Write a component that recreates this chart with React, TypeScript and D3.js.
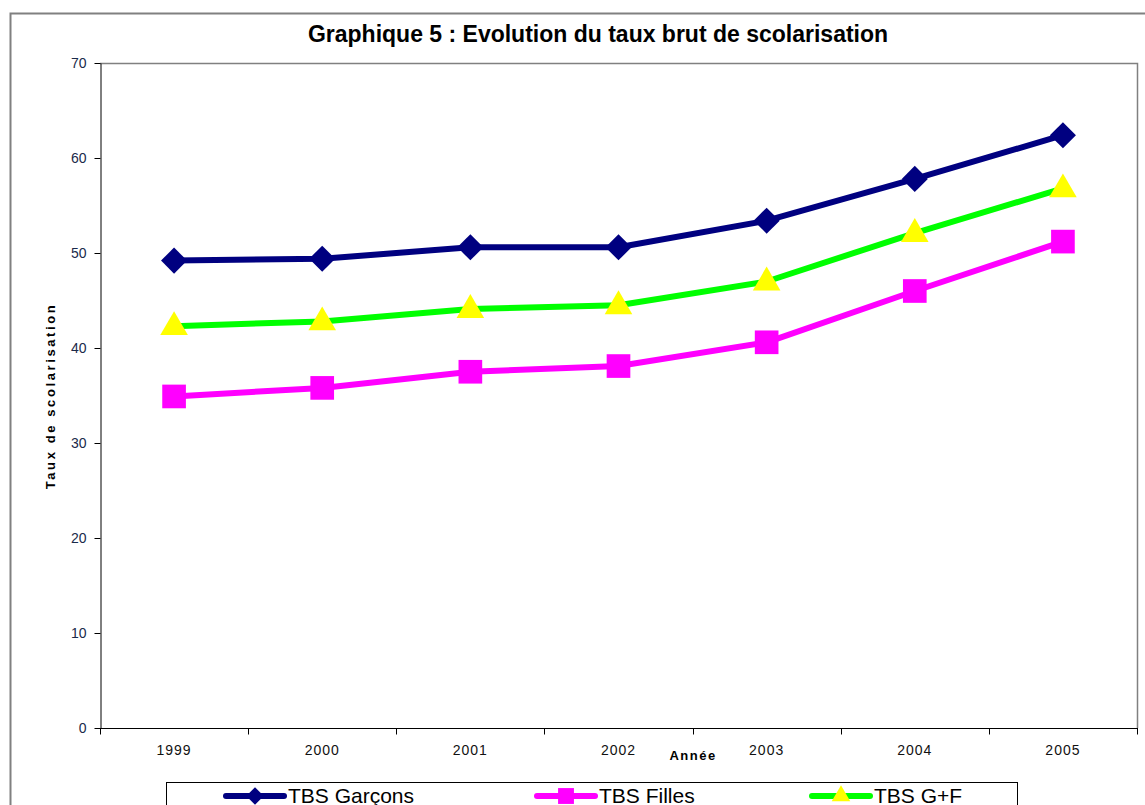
import React, { useEffect, useRef } from "react";
import * as d3 from "d3";

const years = ["1999", "2000", "2001", "2002", "2003", "2004", "2005"];
const garcons = [49.2, 49.4, 50.6, 50.6, 53.4, 57.8, 62.4];
const filles = [34.9, 35.8, 37.5, 38.1, 40.6, 46.0, 51.2];
const ensemble = [42.3, 42.8, 44.1, 44.5, 47.0, 52.1, 56.8];
const yTicks = [0, 10, 20, 30, 40, 50, 60, 70];

// square diamond (rotated square), size = area
const squareDiamond = {
  draw(context: any, size: number) {
    const r = Math.sqrt(size / 2);
    context.moveTo(0, -r);
    context.lineTo(r, 0);
    context.lineTo(0, r);
    context.lineTo(-r, 0);
    context.closePath();
  },
};

const series = [
  { name: "TBS Garçons", values: garcons, line: "#000080", fill: "#000080", symbol: squareDiamond, size: 340, dy: 0, legendX: 226 },
  { name: "TBS Filles", values: filles, line: "#FF00FF", fill: "#FF00FF", symbol: d3.symbolSquare, size: 560, dy: 0, legendX: 537 },
  { name: "TBS G+F", values: ensemble, line: "#00FF00", fill: "#FFFF00", symbol: d3.symbolTriangle, size: 330, dy: 1, legendX: 812 },
];

const FONT = "'Liberation Sans', Arial, sans-serif";

const App = () => {
  const ref = useRef<SVGSVGElement>(null);

  useEffect(() => {
    const svg = d3.select(ref.current);
    svg.selectAll("*").remove();

    const left = 100, right = 1137, top = 63, bottom = 728;

    const x = d3.scaleBand().domain(years).range([left, right]).padding(0);
    const y = d3.scaleLinear().domain([0, 70]).range([bottom, top]);

    // outer chart border
    svg.append("path")
      .attr("d", "M10.5,805 V13.5 H1145")
      .attr("fill", "none").attr("stroke", "#808080").attr("stroke-width", 2);

    // title
    svg.append("text")
      .attr("x", 598).attr("y", 42)
      .attr("text-anchor", "middle")
      .style("font", `bold 23px ${FONT}`)
      .text("Graphique 5 : Evolution du taux brut de scolarisation");

    // plot frame (gray top & right)
    svg.append("path")
      .attr("d", `M${left},${top + 0.5} H${right + 0.5} V${bottom}`)
      .attr("fill", "none").attr("stroke", "#808080").attr("stroke-width", 1.5);

    // y axis
    const yAxis = svg.append("g")
      .attr("transform", `translate(${left + 0.5},0)`)
      .call(d3.axisLeft(y).tickValues(yTicks).tickSize(6).tickPadding(8).tickSizeOuter(0));
    yAxis.select(".domain").attr("stroke", "#000");
    yAxis.selectAll("line").attr("stroke", "#000");
    yAxis.selectAll("text")
      .style("font", `14px ${FONT}`)
      .attr("fill", "#1a2a4a");

    // x axis with ticks between categories
    const xg = svg.append("g").attr("transform", `translate(0,${bottom + 0.5})`);
    xg.append("line")
      .attr("x1", left).attr("x2", right + 1)
      .attr("stroke", "#000");
    const bounds = years.map(yr => x(yr) as number).concat([right]);
    xg.selectAll("line.tick")
      .data(bounds)
      .enter().append("line")
      .attr("class", "tick")
      .attr("x1", d => Math.round(d) + 0.5).attr("x2", d => Math.round(d) + 0.5)
      .attr("y1", 0).attr("y2", 6)
      .attr("stroke", "#000");
    xg.selectAll("text")
      .data(years)
      .enter().append("text")
      .attr("x", d => (x(d) as number) + x.bandwidth() / 2)
      .attr("y", 26)
      .attr("text-anchor", "middle")
      .style("font", `14px ${FONT}`)
      .style("letter-spacing", "1px")
      .attr("fill", "#111")
      .text(d => d);

    // axis titles
    svg.append("text")
      .attr("transform", "translate(55,396) rotate(-90)")
      .attr("text-anchor", "middle")
      .style("font", `900 13px ${FONT}`)
      .style("letter-spacing", "2.6px")
      .text("Taux de scolarisation");
    svg.append("text")
      .attr("x", 693).attr("y", 760)
      .attr("text-anchor", "middle")
      .style("font", `bold 13px ${FONT}`)
      .style("letter-spacing", "1.5px")
      .text("Année");

    // series
    const cx = (i: number) => (x(years[i]) as number) + x.bandwidth() / 2;
    const line = d3.line<number>().x((_, i) => cx(i)).y(d => y(d));

    series.forEach(s => {
      svg.append("path")
        .datum(s.values)
        .attr("fill", "none")
        .attr("stroke", s.line)
        .attr("stroke-width", 6)
        .attr("stroke-linejoin", "round")
        .attr("d", line);
    });
    series.forEach(s => {
      const sym = d3.symbol().type(s.symbol as any).size(s.size);
      svg.append("g").selectAll("path")
        .data(s.values)
        .enter().append("path")
        .attr("transform", (d, i) => `translate(${cx(i)},${y(d) + s.dy})`)
        .attr("fill", s.fill)
        .attr("d", sym);
    });

    // legend
    svg.append("rect")
      .attr("x", 166.5).attr("y", 782.5)
      .attr("width", 851).attr("height", 40)
      .attr("fill", "#fff").attr("stroke", "#000");
    series.forEach(s => {
      const g = svg.append("g");
      g.append("line")
        .attr("x1", s.legendX).attr("x2", s.legendX + 58)
        .attr("y1", 796).attr("y2", 796)
        .attr("stroke", s.line).attr("stroke-width", 6)
        .attr("stroke-linecap", "round");
      g.append("path")
        .attr("transform", `translate(${s.legendX + 29},796)`)
        .attr("fill", s.fill)
        .attr("d", d3.symbol().type(s.symbol as any).size(s.size * 0.45));
      g.append("text")
        .attr("x", s.legendX + 62).attr("y", 803)
        .style("font", `21px ${FONT}`)
        .text(s.name);
    });
  }, []);

  return (
    <svg
      ref={ref}
      width={1145}
      height={805}
      style={{ position: "absolute", left: 0, top: 0, background: "#fff" }}
    />
  );
};

export default App;
